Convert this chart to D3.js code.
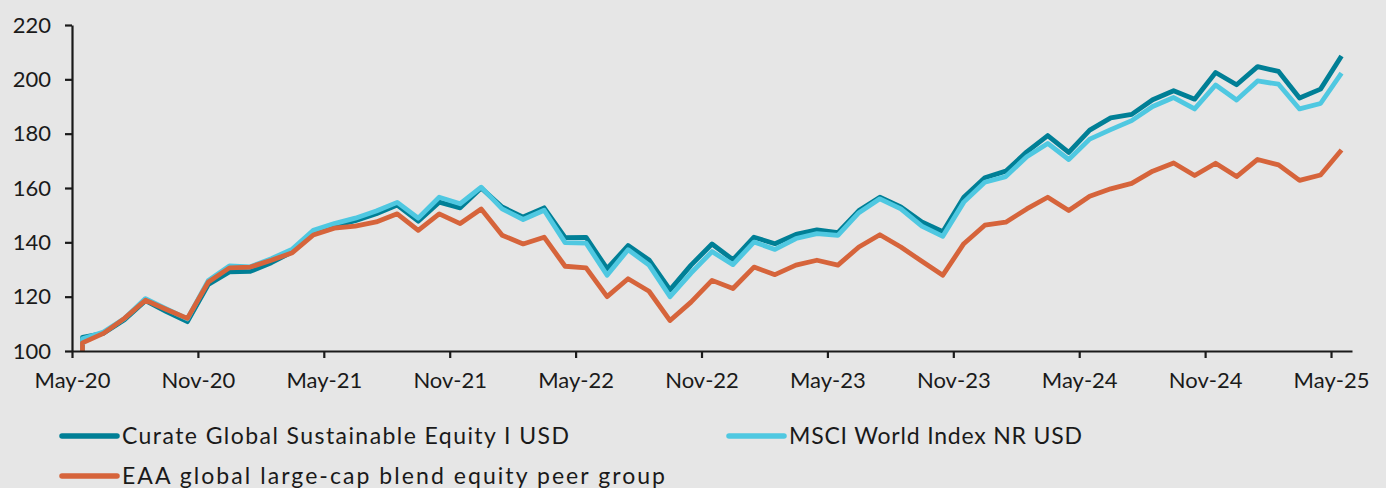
<!DOCTYPE html>
<html>
<head>
<meta charset="utf-8">
<script src="https://cdn.jsdelivr.net/npm/d3@7"></script>
<style>
  html, body { margin: 0; padding: 0; background: #e6e6e6; }
  svg { display: block; }
  text { font-family: Lato, "Open Sans", sans-serif; fill: #1a1a1a; }
</style>
</head>
<body>
<svg id="chart" width="1386" height="488"></svg>
<script>
// ---- data ----
const seriesNames = [
  "Curate Global Sustainable Equity I USD",
  "MSCI World Index NR USD",
  "EAA global large-cap blend equity peer group"
];
const startValue = 100;
const monthCount = 61; // May-20 .. May-25
const tickLabels = ["May-20","Nov-20","May-21","Nov-21","May-22","Nov-22","May-23","Nov-23","May-24","Nov-24","May-25"];
const yTicks = [100, 120, 140, 160, 180, 200, 220];

const curate = [105,106.5,111.5,118.5,114.5,110.8,124.5,129.1,129.3,132.5,136.5,143.5,146,148,150.5,153.7,147.8,154.8,152.7,160,
  153,149.3,152.7,141.7,141.8,130.3,138.8,133.5,122.5,131.6,139.4,133.6,141.9,139.5,142.9,144.6,143.6,151.7,156.6,153,
  147.5,143.9,156.6,163.8,166.2,173.3,179.3,173.1,181.3,185.8,187.1,192.5,195.8,192.7,202.5,198,204.7,202.9,193.1,196.4,208.6];
const msci = [104.5,107,112,119.3,115.5,111.8,126,131.3,131,134,137.5,144.4,146.9,148.9,151.5,154.7,148.9,156.6,154.2,160.3,
  152.3,148.4,151.8,139.9,139.7,127.9,137.3,131.6,120,128.7,136.6,131.8,140.1,137.4,141.4,143.2,142.6,150.9,156,152.3,
  146,142.2,154.8,162.1,164.2,171.5,176.4,170.5,178,181.5,184.8,190,193.3,189.1,197.9,192.4,199.4,198.2,189.1,191.1,202.3];
const peer = [103,106.5,112,118.7,115.3,112,125.4,130.6,130.9,133.4,136.2,142.7,145.2,146,147.5,150.5,144.4,150.5,146.9,152.3,
  142.6,139.4,141.9,131.2,130.6,120,126.6,122,111.2,118,126,123,130.9,128.1,131.6,133.4,131.6,138.3,142.8,138.3,
  133,127.9,139.5,146.3,147.4,152.3,156.6,151.7,157,159.7,161.7,166.2,169.2,164.6,169.1,164.2,170.5,168.5,162.8,164.8,174];
const colors = ["#007f96", "#4fc8e1", "#d6643b"];

// ---- layout ----
const svg = d3.select("#chart");
svg.append("rect").attr("width", 1386).attr("height", 488).attr("fill", "#e6e6e6");

const x = d3.scaleLinear().domain([0, monthCount]).range([72, 1352]);
const y = d3.scaleLinear().domain([100, 220]).range([351, 25]);

// lines
const line = d3.line().x(d => x(d.i)).y(d => y(d.v));
const allSeries = [curate, msci, peer];
allSeries.forEach((vals, k) => {
  const pts = [{i: 0.5, v: startValue}].concat(vals.map((v, i) => ({i: i + 0.5, v})));
  svg.append("path")
    .datum(pts)
    .attr("d", line)
    .attr("fill", "none")
    .attr("stroke", colors[k])
    .attr("stroke-width", 4.8)
    .attr("stroke-linejoin", "round")
    .attr("stroke-linecap", "butt");
});

// y axis
const yAxis = d3.axisLeft(y).tickValues(yTicks).tickSize(7).tickPadding(14).tickSizeOuter(0);
const gy = svg.append("g").attr("transform", "translate(72,0)").call(yAxis);
gy.select(".domain").attr("stroke", "#1a1a1a").attr("stroke-width", 2.2);
gy.selectAll(".tick line").attr("stroke", "#1a1a1a").attr("stroke-width", 2.2);
gy.selectAll(".tick text").style("font-size", "22px").attr("fill", "#1a1a1a");

// x axis
const xAxis = d3.axisBottom(x)
  .tickValues(d3.range(0, monthCount, 6))
  .tickFormat((d, i) => tickLabels[i])
  .tickSize(7).tickPadding(14).tickSizeOuter(0);
const gx = svg.append("g").attr("transform", "translate(0,351)").call(xAxis);
gx.select(".domain").attr("stroke", "#1a1a1a").attr("stroke-width", 2.2);
gx.selectAll(".tick line").attr("stroke", "#1a1a1a").attr("stroke-width", 2.2);
gx.selectAll(".tick text").style("font-size", "22px").attr("fill", "#1a1a1a");

// legend
const legendItems = [
  {name: seriesNames[0], color: colors[0], lx: 62, ly: 436, w: 447},
  {name: seriesNames[1], color: colors[1], lx: 729, ly: 436, w: 293},
  {name: seriesNames[2], color: colors[2], lx: 62, ly: 476, w: 543}
];
const lg = svg.append("g");
legendItems.forEach(it => {
  lg.append("line")
    .attr("x1", it.lx).attr("x2", it.lx + 55)
    .attr("y1", it.ly).attr("y2", it.ly)
    .attr("stroke", it.color).attr("stroke-width", 5.5).attr("stroke-linecap", "round");
  lg.append("text")
    .attr("x", it.lx + 60).attr("y", it.ly)
    .attr("dy", "0.35em")
    .attr("textLength", it.w)
    .attr("lengthAdjust", "spacing")
    .style("font-size", "23px")
    .text(it.name);
});
</script>
</body>
</html>
